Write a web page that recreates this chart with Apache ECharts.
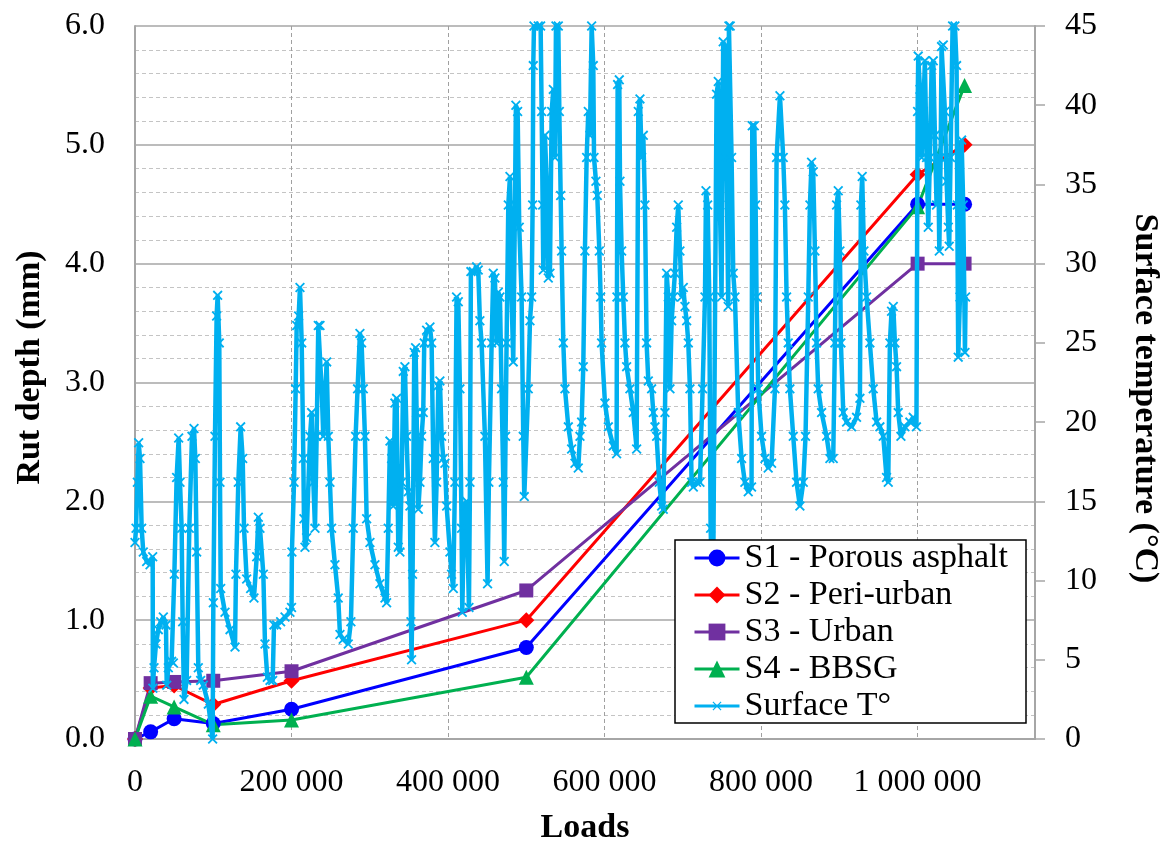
<!DOCTYPE html>
<html><head><meta charset="utf-8">
<script src="https://cdn.jsdelivr.net/npm/echarts@6/dist/echarts.min.js"></script>
<style>html,body{margin:0;padding:0;background:#fff}#c{width:1168px;height:841px}</style>
</head><body><div id="c"></div>
<script>
// Rut depth measurements (mm) at given loads
const loads = [0, 20000, 50000, 100000, 200000, 500000, 1000000, 1060000];
const s1Porous = [0, 0.06, 0.17, 0.13, 0.25, 0.77, 4.5, 4.5];
const s2PeriUrban = [0, 0.43, 0.45, 0.29, 0.49, 1.0, 4.75, 5.0];
const s3Urban = [0, 0.47, 0.48, 0.49, 0.57, 1.25, 4.0, 4.0];
const s4BBSG = [0, 0.36, 0.27, 0.12, 0.16, 0.52, 4.48, 5.5];

// Surface temperature (°C) vs loads (thousands)
const tempLoadsK = [
0,1.3,3.0,4.7,6.4,8.5,10.6,14.9,19.2,22.6,22.8,24.3,26.8,29.8,32.8,36.2,39.6,40.5,42.6,46.8,49.0,50.3,53.2,55.8,57.5,59.6,60.9,62.6,66.0,69.4,72.8,75.4,77.1,78.8,80.9,83.9,87.3,93.7,99.2,100.1,102.2,104.3,105.6,107.7,108.6,109.5,115.0,121.4,127.8,129.0,132.0,135.0,137.6,139.3,142.7,147.8,152.0,155.5,157.6,159.7,164.0,166.1,169.1,172.5,175.9,177.6,181.0,186.1,191.7,198.0,200,200.5,203.2,205.3,206.6,209.1,210.8,213.0,215.1,215.9,217.2,219.3,223.6,225.7,227.9,230.0,232.1,234.2,236.4,238.5,240.6,244.9,
247.0,249.1,251.2,255.5,259.7,261.9,266.1,272.5,275.9,278.9,281.9,284.4,287.4,289.5,291.7,293.8,296.0,300.2,306.6,313.0,319.4,321.5,323.6,325.8,327.9,330.0,332.1,334.3,335.5,336.4,338.5,340.7,342.8,344.9,347.0,349.2,351.3,352.6,353.4,354.7,356.8,358.5,359.8,362.0,364.1,366.2,368.3,369.6,372.6,376.9,379.0,381.1,383.2,385.4,387.5,389.6,391.8,393.9,396.0,398.2,402.4,404.5,406.7,408.8,410.9,413.1,415.2,417.3,418.2,420.7,423.7,426.7,428.0,429.2,432.2,436.5,438.6,440.7,442.9,447.1,450.5,452.2,455.7,457.8,459.9,462.0,464.2,466.3,468.4,470.6,471.8,473.5,474.8,477.0,479.1,481.2,483.3,485.5,486.7,488.9,491.0,494.0,496.1,497.4,
502.5,504.7,506.8,508.1,508.9,509.8,515.3,518.3,519.6,520.9,521.7,523.8,526.0,528.1,530.2,532.4,534.5,536.6,537.9,540.9,542.2,543.9,545.1,547.3,549.4,553.7,557.9,562.2,566.4,568.6,570.7,572.8,574.9,577.1,579.2,581.3,583.5,585.6,586.5,589.0,590.7,593.3,595.0,596.2,600.5,604.8,611.1,615.4,615.8,616.7,618.8,619.7,621.8,623.9,626.1,628.2,632.4,636.7,641.0,643.1,645.2,647.4,649.5,651.6,653.7,655.9,660.1,662.3,664.4,666.5,669.9,672.9,675.0,677.2,679.3,681.4,683.6,685.7,687.8,689.9,692.1,694.2,696.3,698.5,700.6,702.7,704.9,707.0,709.1,711.2,713.4,717.6,721.9,725.3,728.3,729.6,731.7,733.8,735.5,738.5,
743.1,745.3,747.4,749.5,751.6,753.8,755.9,758.0,758.9,760.6,762.3,764.4,766.6,770.8,775.1,779.3,783.6,787.8,788.7,791.3,793.0,794.2,796.4,800.6,804.9,809.1,813.4,817.7,819.8,824.1,828.3,830.4,832.6,834.7,836.8,841.1,845.3,849.6,853.9,856.8,860.3,862.4,864.5,866.6,868.8,870.9,873.0,877.3,883.7,887.9,892.2,894.3,896.5,898.6,900.7,902.0,905.0,909.2,915.6,922.0,926.3,927.5,929.2,931.4,934.8,939.0,943.3,947.6,951.8,956.1,960.3,962.5,964.6,966.7,968.9,971.0,973.1,975.2,978.7,983.8,990.1,994.4,998.5,
1000.0,1000.8,1003.0,1005.1,1007.2,1009.3,1011.5,1013.6,1015.7,1017.9,1020.0,1022.1,1024.2,1026.4,1027.7,1029.4,1030.6,1032.8,1034.9,1037.0,1039.2,1040.4,1042.1,1044.7,1047.7,1049.8,1050.7,1051.9,1054.1,1056.2,1058.3,1060.5,1061.3
];
const tempValues = [
12.4,13.3,16.2,18.7,17.7,13.3,11.8,11.2,11.0,11.5,3.2,4.5,6.0,6.9,7.4,7.7,7.2,3.4,4.5,4.9,4.8,10.4,16.5,19.0,16.2,13.3,7.4,2.5,3.7,13.3,19.1,19.6,17.7,11.8,4.5,3.7,3.4,2.2,0,8.6,19.1,26.7,28.0,25.0,16.2,9.5,8.0,6.9,5.8,10.4,16.2,19.7,17.7,13.3,10.1,9.5,8.9,11.5,14.0,13.3,10.4,6.0,3.9,3.7,3.7,7.2,7.2,7.4,7.7,8.0,8.3,11.8,16.2,22.1,26.1,26.7,28.5,25.0,17.7,13.9,12.1,12.7,19.1,20.6,16.2,13.3,19.1,26.1,26.1,22.1,19.1,23.8,
19.1,16.2,13.3,11.0,8.9,6.6,6.3,6.0,7.4,13.3,19.1,22.1,25.6,25.0,22.1,19.1,13.9,12.4,11.0,9.8,8.9,8.6,13.3,18.8,17.7,14.7,21.2,21.5,16.2,12.1,11.8,16.2,23.2,23.5,19.1,15.6,14.7,7.4,5.0,10.4,24.4,24.7,20.6,14.5,16.2,19.1,20.6,25.0,25.8,26.0,25.0,17.7,12.4,16.2,22.3,22.6,19.1,17.7,17.4,14.7,11.8,10.4,9.5,16.2,27.9,27.6,22.1,13.3,8.0,14.7,15.0,8.3,16.2,29.5,29.5,29.8,29.6,26.4,25.0,19.1,9.8,16.2,25.0,29.4,29.1,25.0,28.2,27.9,22.1,16.2,11.2,19.1,25.0,33.7,35.5,27.9,23.8,33.7,40.0,39.6,32.3,27.9,19.1,15.3,
22.1,26.4,27.9,33.7,42.5,45,45,45,39.6,33.7,29.6,38.1,35.2,29.1,29.4,39.6,41.0,36.7,45,45,39.6,34.3,30.8,25.0,22.1,19.7,18.3,17.4,17.1,19.1,20.0,23.5,30.8,36.7,39.6,38.1,45,42.5,36.7,35.2,34.3,30.8,27.9,25.0,21.2,19.7,18.5,18.0,27.9,41.3,41.6,35.2,30.8,27.9,25.0,23.5,22.1,20.6,18.3,39.6,40.4,36.7,38.1,33.7,25.0,22.6,22.1,20.6,19.7,19.1,16.2,14.7,14.5,20.6,29.4,27.9,22.1,26.4,27.9,29.4,32.3,33.7,30.8,27.9,28.5,27.3,26.4,25.0,22.1,16.2,15.9,16.2,16.2,22.1,27.9,34.6,33.7,27.9,13.3,8.0,
40.7,41.5,33.7,27.9,44.0,43.7,36.7,27.3,45,45,36.7,29.4,27.9,20.6,17.7,16.2,15.6,15.9,38.7,38.7,33.7,27.9,22.1,19.1,17.7,17.1,17.4,22.1,36.7,40.6,36.7,33.7,27.9,25.0,22.1,19.1,16.2,14.7,16.2,19.1,27.9,33.7,36.4,35.8,30.8,25.0,22.1,20.6,19.1,17.7,17.7,25.0,33.7,34.6,30.8,25.0,20.6,20.0,19.7,20.3,21.5,33.7,35.5,30.8,27.9,25.0,22.1,20.0,19.7,19.1,16.5,16.2,25.0,27.0,27.3,25.0,23.5,20.6,19.1,19.7,20.0,20.3,19.7,
39.6,43.1,41.0,36.7,39.6,42.8,36.7,32.3,36.7,42.5,42.8,38.1,33.7,36.7,30.8,36.7,43.7,43.8,39.6,35.2,32.3,31.1,36.7,45,45,42.5,33.7,24.1,27.9,37.8,33.7,24.4,27.9
];

const xTickLabels = {0:'0',200000:'200 000',400000:'400 000',600000:'600 000',800000:'800 000',1000000:'1 000 000'};

const FONT = 'Liberation Serif';
const xMark = 'path://M0,1.3L1.3,0L10,8.7L8.7,10Z M8.7,0L10,1.3L1.3,10L0,8.7Z';
// legend icon for the temperature series: line with a small cross, in a 45x21 box
const tempLegendIcon = 'path://M0,0M45,21M0,9H45V12H0Z M18,6.8L18.8,6L27,14.2L26.2,15Z M26.2,6L27,6.8L18.8,15L18,14.2Z';

function pairs(xs, ys) { return xs.map((x, i) => [x, ys[i]]); }

const chart = echarts.init(document.getElementById('c'), null, {renderer: 'canvas'});

const axisName = {fontFamily: FONT, fontSize: 34, fontWeight: 'bold', color: '#000'};
const axisLab = {fontFamily: FONT, fontSize: 32, color: '#000'};

function rutSeries(name, vals, color, symbol, size) {
  return {
    name, type: 'line', yAxisIndex: 0, data: pairs(loads, vals),
    symbol, symbolSize: size, showAllSymbol: true,
    lineStyle: {color, width: 3}, itemStyle: {color}, z: 3
  };
}

chart.setOption({
  animation: false,
  backgroundColor: '#fff',
  grid: {left: 135, right: 133, top: 26, bottom: 102, containLabel: false, outerBoundsMode: 'none'},
  legend: {
    z: 10,
    orient: 'vertical', left: 675, top: 540,
    itemWidth: 45, itemHeight: 21, itemGap: 3,
    padding: [1, 18, 0, 18],
    backgroundColor: '#fff', borderColor: '#000', borderWidth: 1.5, borderRadius: 0,
    lineStyle: {width: 3},
    textStyle: {fontFamily: FONT, fontSize: 34, color: '#000'},
    data: [
      'S1 - Porous asphalt', 'S2 - Peri-urban', 'S3 - Urban', 'S4 - BBSG',
      {name: 'Surface T°', icon: tempLegendIcon}
    ]
  },
  xAxis: {
    type: 'value', min: 0, max: 1150000, interval: 200000,
    name: 'Loads', nameLocation: 'middle', nameGap: 72, nameTextStyle: axisName,
    axisLine: {show: true, lineStyle: {color: '#A6A6A6', width: 2}},
    axisTick: {show: false},
    axisLabel: Object.assign({margin: 28, formatter: v => (xTickLabels[v] !== undefined ? xTickLabels[v] : '')}, axisLab),
    splitLine: {show: true, lineStyle: {color: '#A0A0A0', type: [4, 3], width: 1}}
  },
  yAxis: [{
    type: 'value', min: 0, max: 6, interval: 1, position: 'left',
    name: 'Rut depth (mm)', nameLocation: 'middle', nameGap: 88, nameRotate: 90,
    nameTextStyle: Object.assign({padding: [0, 0, 0, 30]}, axisName),
    axisLine: {show: true, lineStyle: {color: '#A6A6A6', width: 2}},
    axisTick: {show: false},
    axisLabel: Object.assign({margin: 30, formatter: v => v.toFixed(1)}, axisLab),
    splitLine: {show: true, lineStyle: {color: '#A6A6A6', width: 1.5}},
    minorTick: {show: false, splitNumber: 5},
    minorSplitLine: {show: true, lineStyle: {color: '#C4C4C4', type: [4, 3], width: 1}}
  }, {
    type: 'value', min: 0, max: 45, interval: 5, position: 'right',
    name: 'Surface temperature (°C)', nameLocation: 'middle', nameGap: 93, nameRotate: -90,
    nameTextStyle: Object.assign({padding: [0, 0, 0, 32]}, axisName),
    axisLine: {show: true, lineStyle: {color: '#A6A6A6', width: 2}},
    axisTick: {show: true, length: 10, lineStyle: {color: '#A6A6A6', width: 1.5}},
    axisLabel: Object.assign({margin: 30}, axisLab),
    splitLine: {show: false}
  }],
  series: [
    rutSeries('S1 - Porous asphalt', s1Porous, '#0000FF', 'circle', 15),
    rutSeries('S2 - Peri-urban', s2PeriUrban, '#FF0000', 'diamond', 16),
    rutSeries('S3 - Urban', s3Urban, '#7030A0', 'rect', 14),
    rutSeries('S4 - BBSG', s4BBSG, '#00B050', 'triangle', 15),
    {
      name: 'Surface T°', type: 'line', yAxisIndex: 1,
      data: pairs(tempLoadsK.map(k => k * 1000), tempValues),
      symbol: xMark, symbolSize: 10, showAllSymbol: true,
      lineStyle: {color: '#00B0F0', width: 4.5}, itemStyle: {color: '#00B0F0'}, z: 4
    }
  ]
});
</script></body></html>
